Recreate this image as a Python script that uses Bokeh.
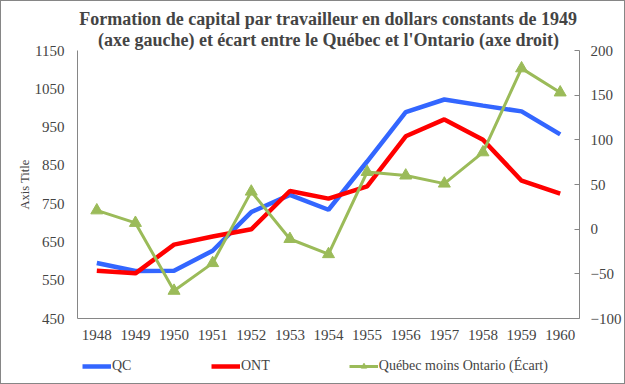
from bokeh.plotting import figure
from bokeh.layouts import column
from bokeh.models import (Range1d, LinearAxis, FixedTicker, Legend, LegendItem, Title)
from bokeh.embed import file_html
from bokeh.resources import INLINE

years = ["1948", "1949", "1950", "1951", "1952", "1953", "1954",
         "1955", "1956", "1957", "1958", "1959", "1960"]
qc = [595, 574, 575, 627, 728, 773, 734, 860, 989, 1022, 1006, 991, 931]
ont = [575, 568, 643, 664, 683, 783, 763, 795, 926, 970, 917, 810, 776]
ecart = [21, 7, -69, -38, 42, -11, -28, 64, 60, 51, 86, 180, 153]

left_ticks = [450, 550, 650, 750, 850, 950, 1050, 1150]
right_ticks = [-100, -50, 0, 50, 100, 150, 200]

title_lines = ["Formation de capital par travailleur en dollars constants de 1949",
               "(axe gauche) et écart entre le Québec et l'Ontario (axe droit)"]
labels = ["QC", "ONT", "Québec moins Ontario (Écart)"]

FONT = "Liberation Serif"
AXIS_GREY = "#868686"
C_QC, C_ONT, C_EC = "#3366FF", "#FF0000", "#9BBB59"

p = figure(x_range=years, y_range=Range1d(450, 1150),
           width=623, height=348, output_backend="svg", toolbar_location=None,
           min_border_left=76, min_border_right=41, min_border_top=49, min_border_bottom=31)
p.outline_line_color = None
p.xgrid.grid_line_color = None
p.ygrid.grid_line_color = None

p.title = None
# inner line first (closest to the frame), then the outer line
p.add_layout(Title(text=title_lines[1], align="center", text_font=FONT,
                   text_font_size="18px", text_font_style="bold",
                   standoff=2, offset=-18), "above")
p.add_layout(Title(text=title_lines[0], align="center", text_font=FONT,
                   text_font_size="18px", text_font_style="bold",
                   standoff=-4, offset=-18), "above")

p.extra_y_ranges = {"ecart": Range1d(-100, 200)}

p.line(years, qc, line_color=C_QC, line_width=4.5)
p.line(years, ont, line_color=C_ONT, line_width=4.5)
p.line(years, ecart, line_color=C_EC, line_width=3, y_range_name="ecart")
p.scatter(years, ecart, marker="triangle", size=12, fill_color=C_EC,
          line_color=C_EC, y_range_name="ecart")

ax = p.yaxis[0]
ax.ticker = FixedTicker(ticks=left_ticks)
ax.axis_label = "Axis Title"
ax.axis_label_text_font = FONT
ax.axis_label_text_font_size = "12.5px"
ax.axis_label_text_font_style = "normal"
ax.axis_label_standoff = 0
ax.major_label_text_font = FONT
ax.major_label_text_font_size = "15px"
ax.major_label_standoff = 13
ax.major_tick_in = 0
ax.major_tick_out = 0
ax.minor_tick_line_color = None
ax.axis_line_color = AXIS_GREY

rax = LinearAxis(y_range_name="ecart", ticker=FixedTicker(ticks=right_ticks))
rax.major_label_text_font = FONT
rax.major_label_text_font_size = "15px"
rax.major_label_standoff = 11
rax.major_tick_in = 5
rax.major_tick_out = 0
rax.major_tick_line_color = AXIS_GREY
rax.minor_tick_line_color = None
rax.axis_line_color = AXIS_GREY
p.add_layout(rax, "right")

xa = p.xaxis[0]
xa.major_label_text_font = FONT
xa.major_label_text_font_size = "15px"
xa.major_label_standoff = 11
xa.major_tick_in = 0
xa.major_tick_out = 0
xa.axis_line_color = AXIS_GREY

# Legend strip below the chart (its renderers are hidden; only the legend is shown)
lp = figure(x_range=years, y_range=Range1d(450, 1150), width=623, height=34,
            output_backend="svg", toolbar_location=None,
            x_axis_location=None, y_axis_location=None,
            min_border_left=0, min_border_right=0, min_border_top=0, min_border_bottom=0)
lp.outline_line_color = None
lp.xgrid.grid_line_color = None
lp.ygrid.grid_line_color = None
lp.extra_y_ranges = {"ecart": Range1d(-100, 200)}
l_qc = lp.line(years, qc, line_color=C_QC, line_width=4.5, visible=False)
l_ont = lp.line(years, ont, line_color=C_ONT, line_width=4.5, visible=False)
l_ec = lp.line(years, ecart, line_color=C_EC, line_width=3, y_range_name="ecart", visible=False)
l_ecm = lp.scatter(years, ecart, marker="triangle", size=12, fill_color=C_EC,
                   line_color=C_EC, y_range_name="ecart", visible=False)

legend = Legend(items=[LegendItem(label=labels[0], renderers=[l_qc]),
                       LegendItem(label=labels[1], renderers=[l_ont]),
                       LegendItem(label=labels[2], renderers=[l_ec, l_ecm])],
                orientation="horizontal", location=(5, 9),
                label_text_font=FONT, label_text_font_size="14px",
                glyph_width=29, glyph_height=14, label_height=14, label_standoff=1, spacing=79,
                padding=0, margin=0, border_line_color=None, background_fill_alpha=0,
                inactive_fill_alpha=0)
lp.add_layout(legend, "center")

layout = column(p, lp, spacing=0, styles={"border": "1px solid #868686"})

open("out.html", "w").write(file_html(layout, INLINE))
